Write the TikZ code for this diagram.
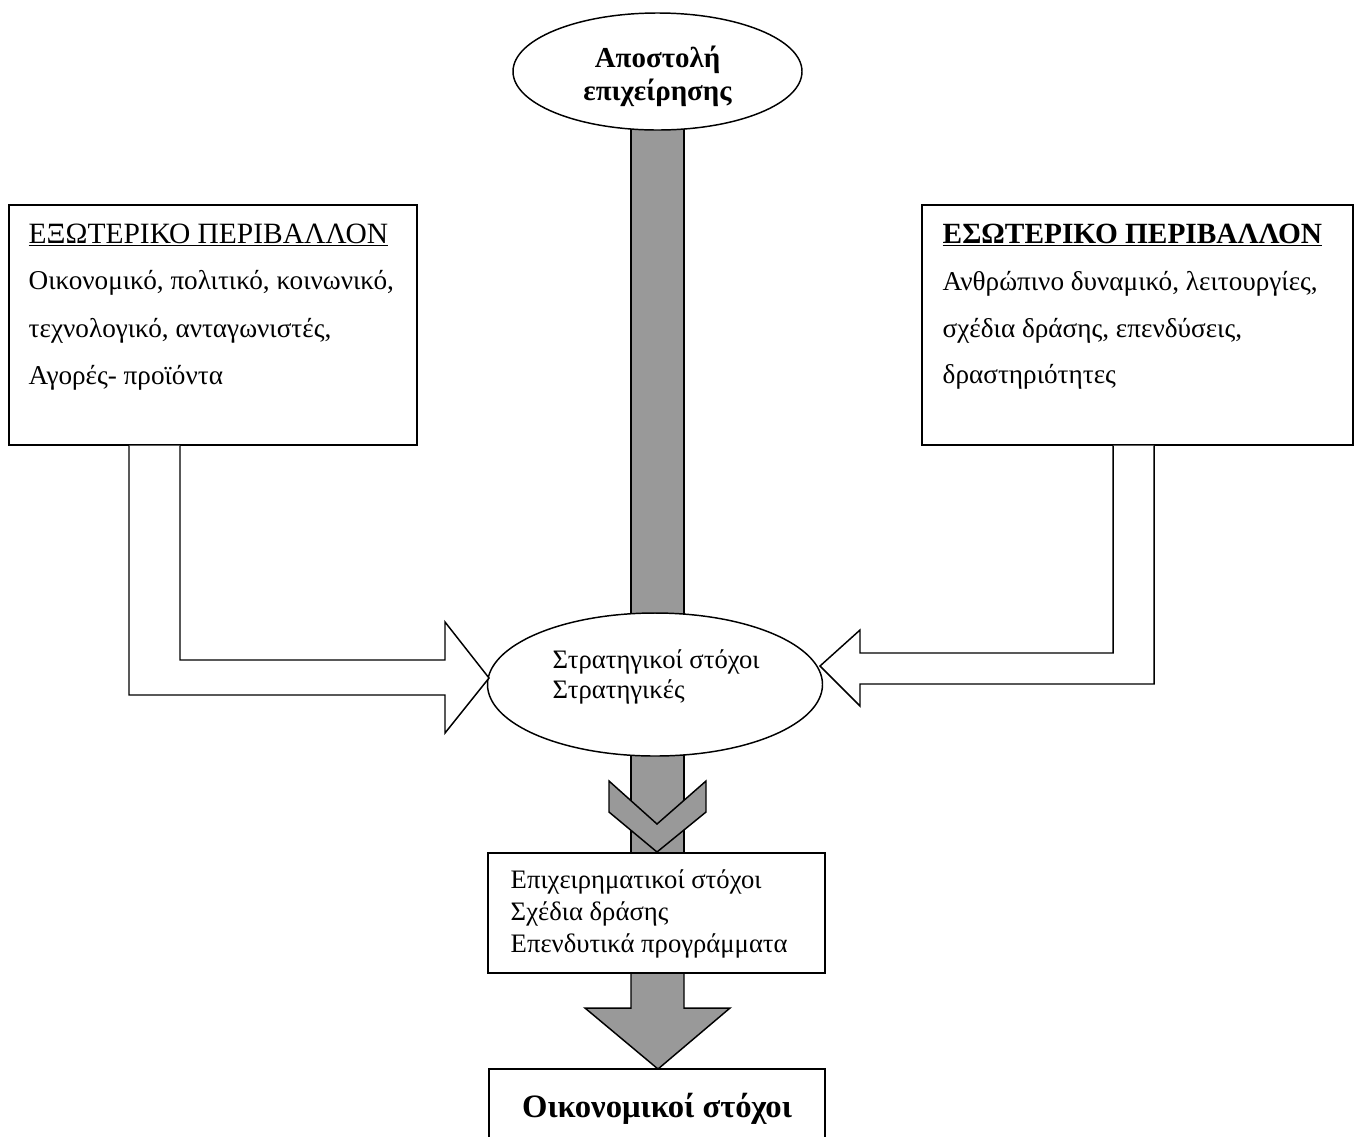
\documentclass[tikz,border=0pt]{standalone}
\usepackage{fontspec}
\setmainfont{Liberation Serif}
\usetikzlibrary{shapes.geometric}
\begin{document}
\begin{tikzpicture}[x=0.75pt,y=-0.75pt,
  line width=1.1pt,
  shaft/.style={draw=black,fill=shaftgray},
  frame/.style={draw=black,fill=white},
  txt/.style={anchor=base west,inner sep=0pt,font=\fontsize{20.4}{24}\selectfont},
  ttl/.style={anchor=base west,inner sep=0pt,font=\fontsize{22.1}{26}\selectfont},
  midtxt/.style={anchor=base west,inner sep=0pt,font=\fontsize{20}{24}\selectfont},
  boxtxt/.style={anchor=base west,inner sep=0pt,font=\fontsize{20}{24}\selectfont},
]
\definecolor{shaftgray}{RGB}{153,153,153}
\useasboundingbox (0,0) rectangle (1362,1136);
% main gray shafts
\draw[shaft] (631,100) rectangle (684,640);
\draw[shaft] (631,730) rectangle (684,853);
\draw[shaft] (631,973) -- (631,1008) -- (585,1008) -- (658,1069) -- (730,1008) -- (684,1008) -- (684,973);
% chevron
\draw[shaft] (609,781) -- (609,812) -- (657,852) -- (706,812) -- (706,781) -- (657,824) -- cycle;
% ellipses
\node[frame,ellipse,minimum width=216.75pt,minimum height=87.75pt,inner sep=0pt] (mission) at (657.5,71.5) {};
\node[anchor=base,inner sep=0pt,font=\fontsize{21.7}{26}\selectfont\bfseries] (mission1) at (657.5,67) {Αποστολή};
\node[anchor=base,inner sep=0pt,font=\fontsize{21.7}{26}\selectfont\bfseries] (mission2) at (657.5,100) {επιχείρησης};
\node[frame,ellipse,minimum width=251.25pt,minimum height=107.25pt,inner sep=0pt] (strat) at (655,684.5) {};
\node[midtxt] (strat1) at (552,668) {Στρατηγικοί στόχοι};
\node[midtxt] (strat2) at (552,698) {Στρατηγικές};
% left box
\node[frame,rectangle,minimum width=306pt,minimum height=180pt,inner sep=0pt] (ext) at (213,325) {};
\node[ttl] (ext1) at (28,243) {\underline{ΕΞΩΤΕΡΙΚΟ ΠΕΡΙΒΑΛΛΟΝ}};
\node[txt] (ext2) at (28,289) {Οικονομικό, πολιτικό, κοινωνικό,};
\node[txt] (ext3) at (28,337) {τεχνολογικό, ανταγωνιστές,};
\node[txt] (ext4) at (28,384) {Αγορές- προϊόντα};
% right box
\node[frame,rectangle,minimum width=323.25pt,minimum height=180pt,inner sep=0pt] (int) at (1137.5,325) {};
\node[ttl,font=\fontsize{22}{26}\selectfont\bfseries] (int1) at (942,243) {\underline{ΕΣΩΤΕΡΙΚΟ ΠΕΡΙΒΑΛΛΟΝ}};
\node[txt] (int2) at (942,290) {Ανθρώπινο δυναμικό, λειτουργίες,};
\node[txt] (int3) at (942,337) {σχέδια δράσης, επενδύσεις,};
\node[txt] (int4) at (942,383) {δραστηριότητες};
% middle box
\node[frame,rectangle,minimum width=252.75pt,minimum height=90pt,inner sep=0pt] (bus) at (656.5,913) {};
\node[boxtxt] (bus1) at (510,888) {Επιχειρηματικοί στόχοι};
\node[boxtxt] (bus2) at (510,920) {Σχέδια δράσης};
\node[boxtxt] (bus3) at (510,952) {Επενδυτικά προγράμματα};
% bottom box
\draw[frame] (489,1140) -- (489,1069) -- (825,1069) -- (825,1140);
\node[anchor=base,inner sep=0pt,font=\fontsize{24.5}{29}\selectfont\bfseries] (fin) at (657,1117) {Οικονομικοί στόχοι};
% left hollow arrow
\draw[fill=white] (ext.south -| 129,0) -- (129,695) -- (445,695) -- (445,733) -- (489,678) -- (445,622) -- (445,660) -- (180,660) -- (ext.south -| 180,0);
% right hollow arrow
\draw[fill=white] (int.south -| 1154,0) -- (1154,684) -- (860,684) -- (860,706) -- (820,666) -- (860,630) -- (860,653) -- (1113,653) -- (int.south -| 1113,0);
\end{tikzpicture}
\end{document}
